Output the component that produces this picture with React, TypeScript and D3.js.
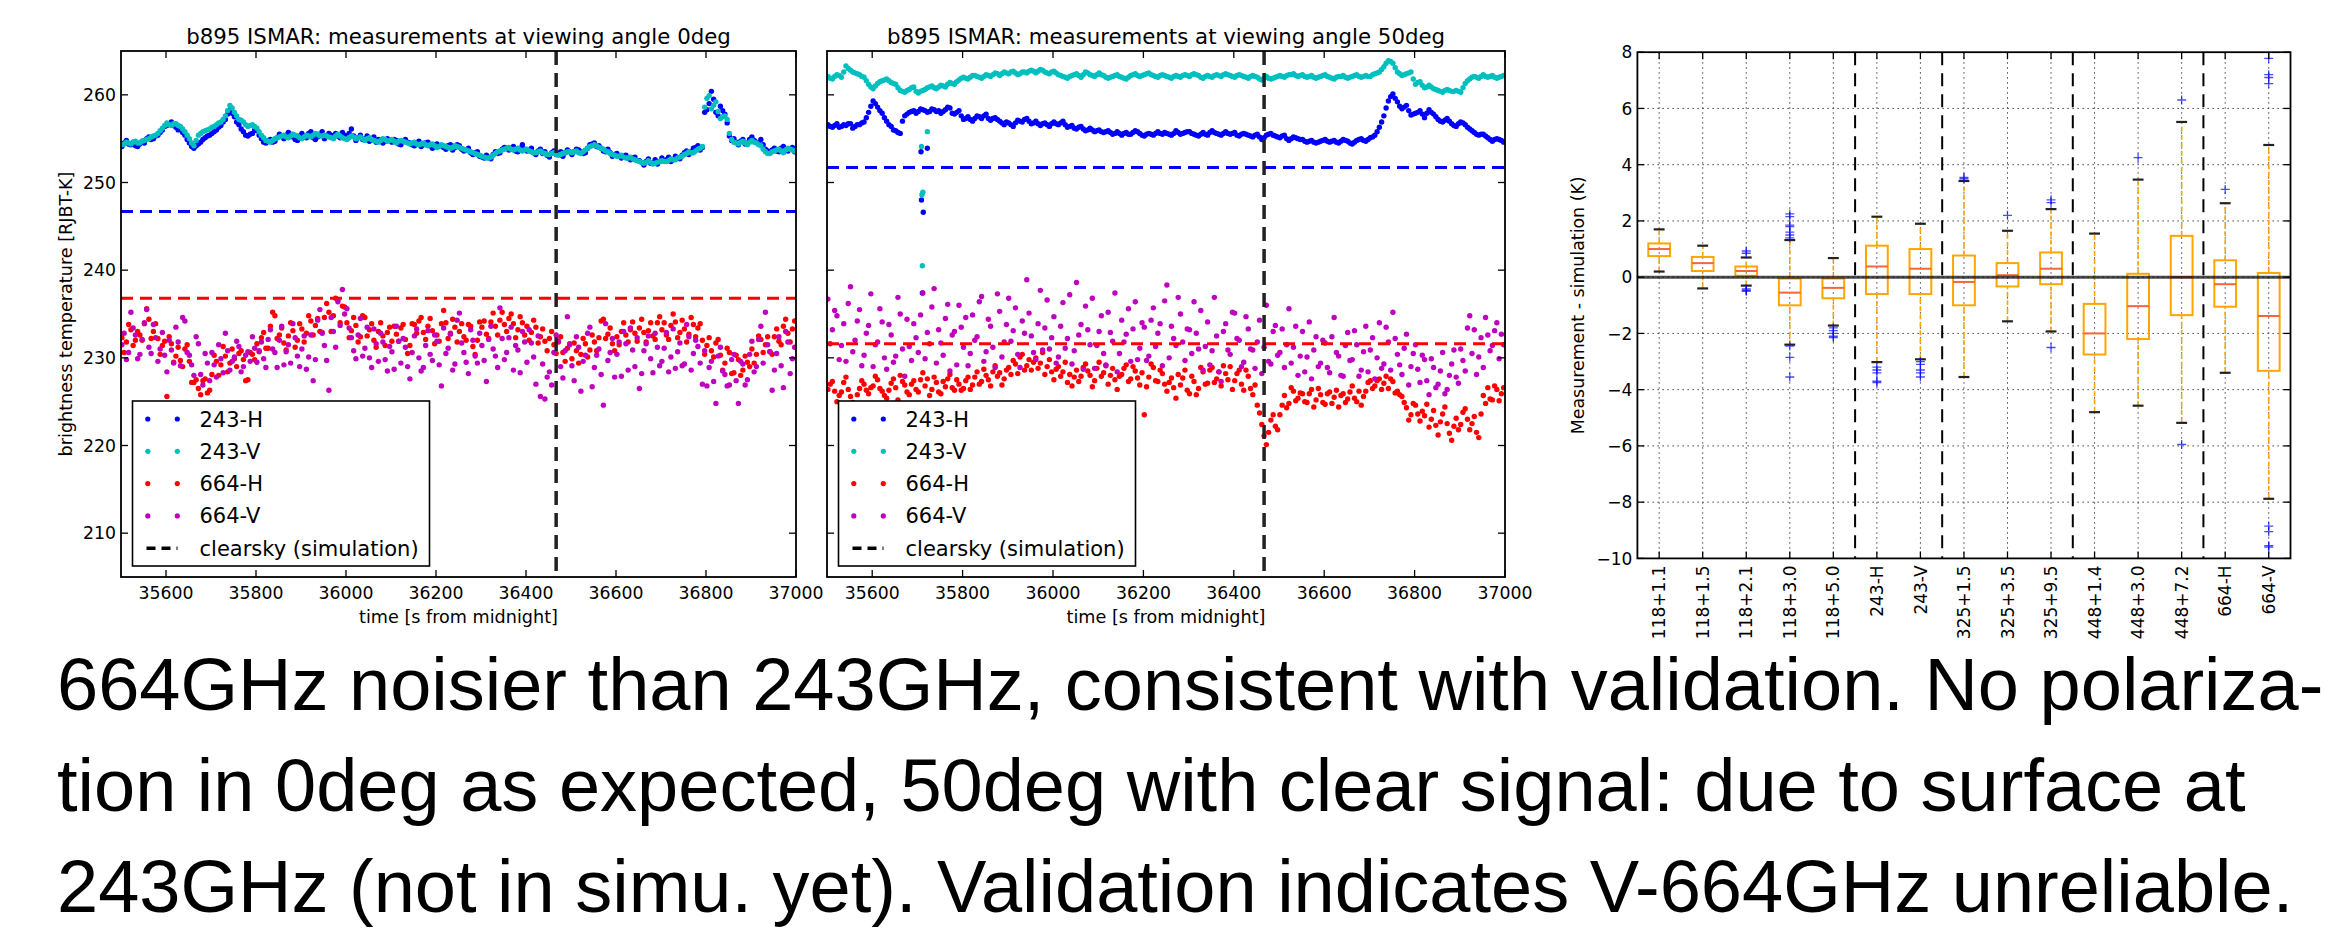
import React, { useEffect, useRef } from "react";
import * as d3 from "d3";

// sampling of the ISMAR series: one point every 10 s from 35502 s,
// plus the in-between samples (35507 s, 35517 s, ...) in the *Mid arrays
const T_START = 35502;
const T_STEP = 10;

// viewing angle 0deg
const h243Deg0 = [
  254.1, 254.8, 254.3, 254.2, 254.4, 254.5, 255.2, 255.0, 255.4, 256.0,
  256.5, 256.9, 256.3, 256.1, 255.4, 254.5, 253.9, 254.4, 254.9, 255.3,
  255.6, 256.0, 256.5, 257.2, 258.3, 257.5, 256.6, 255.8, 255.3, 255.6,
  255.9, 255.0, 254.5, 254.9, 254.7, 255.5, 255.0, 255.7, 255.2, 254.8,
  255.6, 255.1, 255.8, 254.9, 255.5, 255.0, 255.6, 255.2, 255.3, 255.7,
  255.0, 256.1, 254.8, 255.4, 255.0, 254.7, 255.2, 254.9, 254.5, 255.0,
  254.6, 254.8, 254.3, 254.9, 254.5, 254.2, 254.7, 254.3, 254.6, 253.9,
  254.4, 254.2, 253.8, 254.3, 254.0, 254.2, 253.6, 253.9, 253.2, 253.5,
  252.9, 253.1, 252.7, 253.5, 253.4, 254.0, 253.7, 254.1, 253.5, 254.3,
  253.6, 253.9, 253.2, 253.8, 253.5, 252.9, 253.6, 253.3, 253.0, 253.7,
  253.2, 253.8, 253.5, 253.4, 254.3, 254.5, 254.2, 253.6, 253.8, 253.0,
  253.3, 252.8, 253.1, 252.6, 252.9, 252.5, 252.0, 252.7, 252.3, 252.1,
  252.8, 252.6, 252.4, 253.0, 252.7, 253.4, 253.2, 253.9, 254.2, 254.0,
  258.3, 260.4, 258.0, 258.7, 257.8, 255.3, 255.0, 254.3, 254.9, 254.5,
  255.2, 254.6, 254.9, 253.8, 253.4, 253.9, 253.5, 254.1, 253.6, 254.0,
];
const h243Deg0Mid = [
  254.5, 254.4, 254.6, 254.1, 254.7, 255.0, 254.9, 255.3, 255.7, 256.4,
  256.7, 256.5, 256.0, 255.7, 254.9, 254.1, 254.2, 254.6, 255.1, 255.4,
  255.8, 256.3, 256.9, 257.8, 257.9, 256.9, 256.1, 255.4, 255.5, 256.0,
  255.4, 254.6, 254.8, 254.6, 255.1, 255.3, 255.4, 255.5, 254.9, 255.3,
  255.3, 255.6, 255.1, 255.2, 255.8, 255.3, 255.4, 255.6, 255.1, 255.4,
  255.6, 255.3, 255.1, 254.9, 255.3, 255.0, 254.6, 254.8, 254.7, 254.8,
  254.9, 254.4, 254.7, 254.6, 254.3, 254.5, 254.1, 254.5, 254.2, 254.3,
  254.1, 254.0, 254.2, 253.7, 254.3, 253.8, 253.7, 253.4, 253.4, 253.0,
  252.8, 252.9, 253.2, 253.3, 253.8, 253.9, 253.8, 253.6, 253.9, 253.8,
  253.7, 253.4, 253.6, 253.3, 253.1, 253.4, 253.2, 253.5, 253.4, 253.5,
  253.5, 253.7, 253.3, 253.9, 254.4, 254.1, 253.9, 253.5, 253.4, 253.2,
  253.0, 253.0, 252.8, 252.8, 252.5, 252.3, 252.4, 252.2, 252.6, 252.4,
  252.5, 252.9, 252.6, 252.8, 253.1, 253.6, 253.5, 254.0, 253.7, 258.0,
  259.0, 259.5, 257.6, 258.2, 256.8, 254.8, 254.6, 254.7, 254.4, 254.9,
  254.8, 254.4, 254.3, 253.6, 253.7, 253.6, 253.9, 253.7, 253.8, 253.5,
];
const v243Deg0 = [
  254.3, 254.6, 254.4, 254.7, 254.5, 254.8, 255.0, 255.3, 255.6, 256.2,
  256.8, 256.5, 256.7, 256.4, 255.8, 255.0, 254.2, 255.4, 255.8, 256.0,
  256.3, 256.6, 256.9, 257.6, 258.8, 258.0, 257.2, 256.9, 256.4, 256.6,
  256.2, 255.4, 254.8, 254.6, 255.0, 255.2, 255.4, 255.1, 255.5, 255.3,
  255.0, 255.4, 255.2, 255.6, 255.3, 255.4, 255.2, 255.0, 255.5, 255.1,
  254.9, 255.3, 255.0, 255.2, 254.8, 255.1, 254.8, 254.6, 255.0, 254.7,
  254.9, 254.5, 254.8, 254.6, 254.4, 254.6, 254.3, 254.5, 254.2, 254.4,
  254.0, 254.3, 254.1, 253.9, 254.2, 254.0, 253.8, 253.6, 253.4, 253.2,
  253.0, 252.8, 252.9, 253.3, 253.6, 253.8, 254.0, 253.7, 253.9, 253.6,
  253.8, 253.5, 253.4, 253.6, 253.3, 253.2, 253.4, 253.1, 253.3, 253.5,
  253.4, 253.6, 253.3, 253.7, 254.1, 254.3, 254.0, 253.8, 253.5, 253.2,
  253.0, 253.1, 252.8, 252.9, 252.6, 252.4, 252.2, 252.5, 252.1, 252.3,
  252.5, 252.4, 252.7, 252.6, 252.9, 253.2, 253.5, 253.4, 253.8, 254.1,
  259.6, 258.4, 259.2, 257.3, 257.6, 255.6, 254.6, 254.4, 254.7, 254.3,
  254.8, 254.5, 254.2, 253.5, 253.3, 253.6, 253.8, 253.4, 253.9, 253.7,
];
const v243Deg0Mid = [
  254.4, 254.5, 254.6, 254.5, 254.7, 254.9, 255.2, 255.4, 255.9, 256.5,
  256.6, 256.7, 256.5, 256.1, 255.4, 254.5, 254.8, 255.6, 255.9, 256.1,
  256.4, 256.8, 257.2, 258.2, 258.5, 257.6, 257.1, 256.6, 256.5, 256.4,
  255.8, 255.1, 254.7, 254.8, 255.1, 255.3, 255.2, 255.3, 255.4, 255.1,
  255.2, 255.3, 255.4, 255.5, 255.3, 255.3, 255.1, 255.3, 255.3, 255.0,
  255.1, 255.2, 255.1, 255.0, 255.0, 254.9, 254.7, 254.8, 254.9, 254.8,
  254.7, 254.7, 254.7, 254.5, 254.5, 254.4, 254.4, 254.3, 254.3, 254.2,
  254.1, 254.2, 254.0, 254.0, 254.1, 253.9, 253.7, 253.5, 253.3, 253.1,
  252.9, 252.8, 253.1, 253.5, 253.7, 253.9, 253.8, 253.8, 253.7, 253.7,
  253.6, 253.4, 253.5, 253.4, 253.2, 253.3, 253.2, 253.2, 253.4, 253.5,
  253.5, 253.4, 253.5, 253.9, 254.2, 254.2, 253.9, 253.6, 253.3, 253.1,
  253.0, 252.9, 252.8, 252.7, 252.5, 252.3, 252.3, 252.3, 252.2, 252.4,
  252.4, 252.5, 252.6, 252.8, 253.0, 253.3, 253.4, 253.6, 253.9, 258.6,
  259.9, 258.8, 258.1, 257.5, 257.2, 254.9, 254.5, 254.6, 254.5, 254.6,
  254.6, 254.3, 253.8, 253.3, 253.5, 253.7, 253.6, 253.7, 253.8, 253.6,
];
const h664Deg0 = [
  232.3, 231.8, 233.2, 232.0, 232.6, 233.9, 234.4, 233.0, 232.2, 231.4,
  225.6, 231.6, 230.2, 229.7, 231.0, 229.6, 227.2, 226.5, 227.4, 226.0,
  228.1, 229.6, 229.2, 230.2, 229.4, 229.9, 230.5, 229.8, 227.5, 230.4,
  231.6, 232.3, 231.1, 233.6, 234.8, 232.6, 231.7, 232.5, 233.1, 232.0,
  233.3, 232.8, 234.2, 233.7, 233.0, 234.6, 235.2, 234.8, 236.6, 235.9,
  234.0, 233.1, 233.7, 232.4, 234.6, 233.2, 232.0, 233.0, 232.5, 232.9,
  231.9, 232.7, 233.4, 232.1, 231.4, 233.8, 234.2, 232.9, 233.6, 233.1,
  232.6, 233.9, 234.0, 232.8, 233.5, 233.0, 232.4, 233.8, 231.3, 232.0,
  233.5, 232.7, 234.1, 233.6, 234.3, 233.8, 234.5, 233.9, 233.2, 234.0,
  233.6, 232.9, 233.5, 232.4, 231.9, 232.2, 231.5, 231.8, 230.6, 231.1,
  229.9, 230.8, 230.4, 231.6, 230.9, 231.8, 232.3, 234.4, 232.7, 231.6,
  232.4, 233.0, 232.6, 233.2, 232.8, 233.4, 232.9, 233.1, 232.5, 234.0,
  233.2, 232.6, 233.7, 234.1, 232.9, 233.3, 232.7, 233.8, 233.4, 232.0,
  231.4, 230.8, 231.7, 230.3, 229.4, 230.6, 228.3, 229.8, 228.6, 229.5,
  231.0, 230.4, 232.1, 231.5, 230.7, 232.4, 231.9, 233.6, 232.8, 233.3,
];
const h664Deg0Mid = [
  230.6, 233.8, 231.4, 233.0, 232.0, 235.6, 232.2, 233.9, 230.4, 231.9,
  232.4, 229.5, 231.2, 229.0, 231.5, 227.2, 227.5, 225.8, 227.6, 226.3,
  230.3, 228.0, 231.3, 228.4, 231.0, 229.0, 230.8, 227.4, 230.6, 229.8,
  230.7, 232.9, 231.1, 235.2, 232.2, 233.4, 230.9, 234.0, 231.2, 233.9,
  231.8, 234.8, 232.6, 234.5, 232.9, 236.2, 233.0, 236.8, 234.0, 235.8,
  232.3, 234.6, 231.8, 234.8, 232.5, 233.9, 231.2, 234.0, 231.4, 233.5,
  233.6, 231.9, 233.8, 230.5, 233.9, 232.8, 234.6, 232.1, 234.5, 231.6,
  231.9, 235.4, 232.2, 234.4, 231.8, 233.9, 232.0, 233.6, 230.4, 234.1,
  234.2, 232.2, 235.1, 232.6, 235.2, 233.0, 235.0, 232.3, 234.7, 232.6,
  232.0, 234.3, 231.7, 233.3, 230.8, 233.0, 230.5, 232.4, 229.6, 231.6,
  231.7, 229.4, 232.2, 230.1, 232.6, 230.8, 234.2, 232.2, 233.4, 230.8,
  231.5, 234.0, 231.8, 234.1, 231.9, 234.4, 231.8, 234.0, 232.1, 234.7,
  234.0, 232.1, 235.0, 232.3, 234.3, 231.8, 234.6, 232.4, 233.9, 230.4,
  232.3, 230.1, 232.1, 228.6, 231.1, 228.2, 230.3, 228.0, 230.2, 229.0,
  229.4, 232.5, 230.6, 232.4, 230.4, 233.3, 231.5, 234.4, 231.8, 234.2,
];
const v664Deg0 = [
  231.5, 229.8, 235.2, 232.6, 230.4, 234.0, 231.2, 233.8, 229.6, 232.9,
  228.4, 230.9, 233.5, 229.1, 234.2, 230.3, 228.0, 231.6, 226.9, 229.4,
  230.6, 227.8, 229.9, 232.8, 228.6, 230.1, 231.3, 229.0, 230.7, 232.4,
  229.5, 231.8, 228.9, 233.2, 230.6, 232.0, 229.2, 231.5, 233.9, 230.2,
  231.0, 228.7, 232.6, 229.8, 235.5, 231.4, 226.3, 233.0, 236.4, 237.8,
  235.6, 232.3, 229.9, 234.5, 231.1, 230.0, 233.3, 229.6, 231.8, 228.5,
  230.7, 233.6, 229.4, 231.2, 227.6, 232.5, 230.0, 228.9, 233.1, 229.7,
  231.9, 226.8, 230.5, 232.7, 229.3, 235.1, 230.6, 228.2, 232.0, 229.4,
  231.4, 227.3, 233.6, 230.2, 235.7, 229.8, 232.3, 228.6, 230.9, 233.0,
  229.5, 231.7, 227.0, 225.6, 225.3, 228.4, 230.6, 231.9, 227.7, 234.7,
  229.1, 232.4, 226.2, 230.3, 233.5, 228.9, 231.0, 224.6, 229.7, 232.2,
  230.4, 227.9, 231.6, 233.4, 229.0, 226.5, 230.8, 232.5, 228.3, 231.2,
  229.6, 232.9, 230.1, 228.8, 231.7, 229.3, 232.4, 230.5, 231.3, 227.0,
  226.8, 229.6, 224.8, 231.2, 228.1, 226.9, 230.4, 224.8, 229.3, 227.5,
  231.9, 229.0, 233.6, 235.2, 230.7, 228.6, 232.4, 226.6, 231.8, 229.9,
];
const v664Deg0Mid = [
  232.8, 230.6, 233.4, 229.9, 232.1, 235.5, 230.5, 232.3, 231.0, 230.3,
  232.0, 229.4, 231.8, 234.6, 230.6, 229.2, 232.4, 228.1, 230.5, 227.4,
  229.2, 231.5, 228.3, 230.8, 229.6, 231.9, 228.4, 230.3, 229.6, 231.1,
  230.8, 229.9, 232.1, 231.0, 228.9, 233.6, 230.7, 229.4, 232.3, 229.0,
  232.5, 230.1, 227.4, 234.3, 232.8, 229.7, 234.6, 231.2, 233.7, 235.0,
  233.4, 230.8, 232.6, 230.2, 233.5, 228.9, 231.6, 232.8, 229.8, 231.3,
  228.7, 231.9, 232.2, 229.0, 230.6, 233.3, 228.5, 231.4, 230.4, 232.6,
  229.2, 233.4, 231.1, 228.6, 234.3, 231.7, 229.5, 233.2, 230.2, 232.8,
  229.7, 232.1, 231.0, 228.9, 232.2, 230.6, 233.5, 231.4, 228.3, 231.8,
  233.2, 230.1, 232.5, 229.3, 227.8, 226.9, 232.6, 229.0, 230.8, 231.5,
  227.4, 231.2, 229.6, 232.8, 226.7, 230.3, 228.1, 233.9, 230.6, 227.8,
  231.8, 233.0, 228.6, 230.9, 232.3, 228.2, 231.6, 229.9, 232.8, 229.1,
  231.1, 228.4, 233.3, 230.7, 229.1, 233.8, 228.6, 232.0, 229.4, 230.8,
  228.9, 227.3, 230.2, 228.5, 226.8, 229.8, 227.4, 229.6, 226.9, 230.4,
  228.4, 232.1, 229.4, 231.5, 226.3, 230.5, 229.1, 233.0, 228.2, 231.2,
];

// viewing angle 50deg
const h243Deg50 = [
  256.6, 256.3, 256.7, 256.4, 256.5, 256.7, 256.4, 256.6, 256.9, 258.0,
  259.3, 258.6, 257.9, 257.0, 256.4, 255.9, 255.6, 257.6, 258.0, 258.2,
  258.1, 258.3, 258.0, 258.4, 258.1, 257.9, 258.3, 258.5, 257.8, 258.2,
  257.2, 257.5, 257.0, 257.6, 257.3, 257.8, 257.1, 257.4, 257.0, 256.6,
  256.8, 256.4, 257.1, 256.9, 257.3, 256.7, 257.0, 256.5, 256.8, 256.4,
  256.9, 256.6, 257.0, 256.3, 256.5, 256.1, 256.4, 255.9, 256.2, 255.8,
  256.0, 255.7, 255.9, 255.5, 255.8, 255.4, 255.7, 255.5, 255.9, 255.6,
  255.3, 255.6, 255.4, 255.8, 255.5, 255.6, 255.4, 255.9, 255.5, 255.7,
  255.8, 255.5, 255.3, 255.7, 255.4, 255.9, 255.6, 255.4, 255.8, 255.5,
  255.7, 255.3, 255.6, 255.4, 255.2, 255.5, 254.9, 255.4, 255.6, 255.3,
  255.1, 255.4, 254.8, 255.2, 255.0, 254.9, 254.6, 254.8, 254.5, 254.7,
  254.9, 254.6, 254.8, 254.5, 254.9, 254.7, 254.4, 254.8, 255.0, 254.7,
  255.1, 255.4, 256.3, 257.6, 259.3, 260.1, 259.2, 258.4, 258.8, 257.7,
  257.9, 258.2, 257.4, 258.3, 257.8, 257.2, 256.9, 257.3, 256.7, 256.4,
  256.9, 256.6, 256.1, 255.7, 255.4, 255.5, 255.1, 254.7, 255.0, 254.8,
];
const h243Deg50Mid = [
  256.4, 256.5, 256.3, 256.6, 256.7, 256.2, 256.6, 256.8, 257.4, 258.7,
  259.0, 258.2, 257.4, 256.6, 256.0, 255.7, 257.0, 257.8, 258.1, 257.9,
  258.4, 258.2, 258.1, 258.3, 258.2, 258.1, 258.6, 257.9, 258.0, 257.6,
  257.3, 257.2, 257.3, 257.5, 257.6, 257.3, 257.3, 257.2, 256.8, 256.9,
  256.6, 256.8, 257.0, 257.2, 257.0, 256.8, 256.7, 256.7, 256.6, 256.7,
  256.7, 256.8, 256.6, 256.4, 256.2, 256.3, 256.1, 256.0, 256.0, 255.9,
  255.8, 255.8, 255.7, 255.6, 255.6, 255.6, 255.5, 255.7, 255.8, 255.4,
  255.5, 255.5, 255.6, 255.6, 255.7, 255.5, 255.6, 255.7, 255.6, 255.8,
  255.6, 255.4, 255.5, 255.5, 255.7, 255.7, 255.5, 255.6, 255.6, 255.6,
  255.4, 255.5, 255.5, 255.3, 255.4, 255.2, 255.1, 255.5, 255.4, 255.2,
  255.3, 255.0, 255.0, 255.1, 254.9, 254.7, 254.7, 254.6, 254.6, 254.8,
  254.7, 254.7, 254.6, 254.7, 254.8, 254.5, 254.6, 254.9, 254.8, 254.9,
  255.2, 255.8, 256.9, 258.5, 259.8, 259.6, 258.7, 258.6, 258.2, 257.8,
  258.0, 257.8, 257.9, 258.0, 257.5, 257.0, 257.1, 257.0, 256.5, 256.7,
  256.8, 256.3, 255.9, 255.5, 255.5, 255.3, 254.9, 254.9, 254.9, 254.6,
];
const v243Deg50 = [
  262.1, 261.8, 262.3, 262.0, 263.3, 262.8, 262.5, 262.3, 262.0, 261.2,
  260.7, 261.3, 261.6, 261.8, 261.4, 261.2, 260.5, 260.3, 260.6, 260.9,
  260.2, 260.5, 260.8, 261.0, 260.7, 261.1, 260.9, 261.4, 261.2, 261.7,
  262.0, 261.8, 262.2, 262.1, 261.9, 262.3, 262.1, 262.5, 262.2, 262.6,
  262.4, 262.7, 262.3, 262.6, 262.5, 262.8, 262.5, 262.9, 262.6, 262.4,
  262.7, 262.3, 262.1, 261.9, 262.2, 262.4, 262.0, 262.6, 262.3, 262.1,
  262.5, 262.2, 261.9, 262.1, 262.3, 262.0, 261.8, 262.2, 262.4, 262.1,
  262.3, 262.5, 262.2, 262.0, 262.3, 262.1, 261.9, 262.2, 262.0, 262.3,
  262.1, 262.4, 262.2, 261.9, 262.2, 262.0, 262.3, 262.1, 262.4, 262.2,
  262.0, 262.3, 262.1, 261.9, 262.2, 262.0, 261.7, 262.1, 261.8, 262.0,
  262.2, 262.0, 262.3, 262.4, 262.1, 262.3, 262.0, 262.2, 261.9, 262.1,
  262.3, 262.0, 261.8, 262.1, 262.2, 261.9, 262.1, 262.3, 262.0, 262.2,
  262.1, 262.4, 262.6, 263.2, 263.9, 263.6, 262.6, 262.2, 262.4, 262.6,
  261.2, 261.5, 260.8, 261.1, 260.7, 260.5, 260.3, 260.6, 260.4, 260.5,
  260.3, 261.3, 261.8, 262.1, 261.9, 262.3, 262.0, 262.2, 261.9, 262.1,
];
const v243Deg50Mid = [
  261.9, 262.1, 262.2, 262.6, 263.0, 262.6, 262.4, 262.1, 261.6, 260.9,
  261.0, 261.5, 261.7, 261.6, 261.3, 260.8, 260.4, 260.5, 260.8, 260.4,
  260.4, 260.6, 260.9, 260.8, 260.9, 261.0, 261.2, 261.3, 261.5, 261.9,
  261.9, 262.0, 262.2, 262.0, 262.1, 262.2, 262.3, 262.4, 262.4, 262.5,
  262.6, 262.5, 262.4, 262.6, 262.7, 262.7, 262.7, 262.8, 262.5, 262.6,
  262.5, 262.2, 262.0, 262.1, 262.3, 262.2, 262.3, 262.5, 262.2, 262.3,
  262.3, 262.0, 262.0, 262.2, 262.1, 261.9, 262.0, 262.3, 262.2, 262.2,
  262.4, 262.3, 262.1, 262.2, 262.2, 262.0, 262.1, 262.1, 262.2, 262.2,
  262.3, 262.3, 262.0, 262.1, 262.1, 262.2, 262.2, 262.3, 262.3, 262.1,
  262.2, 262.2, 262.0, 262.1, 262.1, 261.8, 261.9, 261.9, 261.9, 262.1,
  262.1, 262.2, 262.3, 262.2, 262.2, 262.1, 262.1, 262.0, 262.0, 262.2,
  262.1, 261.9, 262.0, 262.1, 262.0, 262.0, 262.2, 262.1, 262.1, 262.1,
  262.3, 262.5, 262.9, 263.6, 263.8, 263.1, 262.4, 262.3, 262.5, 261.8,
  261.4, 261.1, 260.9, 260.9, 260.6, 260.4, 260.5, 260.5, 260.4, 260.4,
  260.8, 261.6, 262.0, 262.0, 262.1, 262.1, 262.1, 262.0, 262.0, 262.2,
];
const h664Deg50 = [
  226.4, 227.3, 225.0, 226.1, 227.8, 225.6, 224.6, 226.5, 227.0, 225.9,
  226.8, 227.5, 226.2, 225.4, 227.1, 226.6, 228.0, 226.9, 225.8, 227.4,
  226.1, 228.3, 227.6, 226.4, 227.2, 225.9, 226.7, 228.1, 226.3, 227.0,
  226.5, 227.8, 226.9, 228.4, 227.3, 228.0, 226.8, 229.1, 228.3, 227.6,
  228.9, 229.7, 228.2, 230.4, 229.1, 228.6, 230.0, 229.4, 228.1, 229.8,
  227.5, 229.0, 228.4, 227.2, 226.8, 228.6, 227.9, 229.3, 228.0, 227.4,
  229.5, 228.3, 227.0, 228.8, 226.4, 228.1, 229.2, 227.6, 228.5, 226.9,
  223.5, 227.8, 228.9, 227.3, 228.2, 226.2, 227.7, 225.4, 226.9, 228.6,
  225.9, 227.3, 226.5, 228.4, 227.1, 228.9, 227.6, 226.8, 228.2, 229.0,
  227.4, 228.6, 226.3, 227.9, 225.8, 224.6, 222.4, 220.1, 222.9, 222.2,
  223.5, 225.7, 224.8, 226.2, 225.4, 225.9, 224.9, 226.4, 225.2, 225.8,
  224.7, 226.1, 225.5, 224.4, 225.9, 225.3, 226.8, 225.0, 224.6, 226.2,
  227.4, 226.8, 227.6, 227.1, 226.5, 227.3, 226.2, 225.6, 224.3, 223.5,
  224.6, 222.8, 223.4, 222.1, 224.0, 221.2, 223.6, 222.5, 220.6, 223.1,
  222.4, 224.2, 221.8, 223.3, 220.9, 225.7, 226.6, 225.2, 226.4, 225.9,
];
const h664Deg50Mid = [
  227.0, 226.2, 225.7, 227.2, 226.4, 224.9, 225.8, 227.4, 226.3, 226.6,
  227.9, 226.5, 225.7, 226.3, 227.6, 225.2, 227.3, 226.1, 227.0, 226.4,
  227.5, 226.8, 225.7, 227.8, 226.1, 227.3, 227.6, 226.6, 227.5, 226.3,
  227.4, 226.4, 227.8, 227.0, 228.7, 227.5, 228.4, 227.9, 226.9, 228.6,
  228.1, 229.3, 230.1, 228.6, 229.8, 229.5, 228.8, 230.6, 229.0, 228.4,
  228.7, 227.9, 229.5, 228.1, 227.8, 227.3, 228.9, 228.5, 226.7, 228.8,
  227.9, 229.1, 228.0, 227.5, 227.9, 228.8, 227.3, 229.0, 227.7, 228.3,
  226.7, 229.3, 227.4, 228.6, 227.0, 227.2, 226.6, 228.1, 227.7, 226.3,
  227.9, 225.8, 228.9, 227.0, 228.6, 227.2, 228.4, 229.1, 227.5, 226.4,
  228.2, 227.0, 228.6, 226.5, 226.9, 223.7, 221.1, 221.5, 223.5, 221.8,
  224.6, 224.3, 226.6, 225.1, 226.0, 225.0, 225.9, 224.4, 226.5, 224.9,
  225.9, 224.8, 226.3, 225.7, 224.9, 226.1, 225.4, 226.2, 225.6, 227.2,
  226.5, 227.4, 226.4, 227.9, 227.6, 226.0, 225.8, 224.9, 222.9, 224.8,
  223.6, 223.9, 224.7, 223.0, 222.3, 222.7, 224.4, 221.4, 222.2, 221.8,
  223.8, 223.0, 222.5, 221.5, 223.6, 224.8, 225.3, 226.8, 225.1, 226.6,
];
const v664Deg50 = [
  236.7, 233.2, 234.8, 231.4, 229.6, 238.1, 232.0, 235.5, 230.3, 233.7,
  229.0, 231.8, 234.1, 228.7, 232.6, 230.2, 235.0, 227.9, 231.3, 233.9,
  230.6, 237.4, 232.9, 235.8, 229.4, 231.7, 234.5, 228.5, 233.0, 236.0,
  231.2, 229.1, 234.9, 232.4, 237.0, 230.7, 233.6, 228.9, 235.3, 231.8,
  236.8, 233.1, 230.4, 234.2, 238.9, 232.5, 229.8, 237.7, 233.4, 231.0,
  234.7, 230.1, 236.3, 232.2, 229.3, 238.6, 233.8, 235.9, 231.5, 228.8,
  233.0, 230.5, 235.2, 231.9, 228.4, 234.3, 232.7, 229.6, 236.4, 231.1,
  233.5, 230.2, 235.7, 232.8, 229.1, 238.3, 233.6, 231.4, 235.0, 229.7,
  233.2, 236.4, 231.0, 228.6, 234.1, 230.8, 232.5, 227.3, 233.9, 230.4,
  235.1, 232.0, 229.5, 233.3, 230.9, 231.8, 228.2, 236.0, 229.3, 233.7,
  230.6, 228.9, 235.6, 231.2, 228.0, 233.0, 230.1, 227.6, 232.4, 229.4,
  231.7, 228.3, 234.6, 230.2, 227.9, 232.9, 229.8, 231.5, 228.6, 233.6,
  230.9, 227.6, 234.0, 229.3, 231.8, 235.2, 230.4, 228.1, 232.7, 229.0,
  231.5, 227.2, 229.8, 225.8, 228.9, 227.0, 230.6, 226.4, 229.3, 227.8,
  231.0, 228.5, 234.8, 233.2, 230.1, 228.9, 232.6, 231.4, 234.0, 232.7,
];
const v664Deg50Mid = [
  231.6, 235.4, 229.8, 233.9, 236.2, 230.7, 234.2, 229.1, 232.8, 237.3,
  231.5, 235.6, 230.0, 233.8, 229.5, 236.9, 231.0, 234.4, 229.7, 232.3,
  234.9, 229.9, 231.6, 237.9, 233.2, 230.3, 236.1, 232.6, 229.2, 233.5,
  234.6, 230.5, 232.0, 236.4, 229.6, 234.4, 231.2, 237.3, 230.1, 233.8,
  231.9, 235.7, 228.9, 232.8, 235.1, 230.6, 233.9, 230.9, 236.6, 232.3,
  229.4, 233.6, 231.1, 237.2, 230.8, 232.6, 228.7, 233.2, 236.8, 231.4,
  234.8, 229.2, 232.9, 237.4, 230.5, 231.8, 235.6, 233.3, 229.8, 234.0,
  229.7, 234.3, 231.3, 233.9, 236.5, 230.0, 232.2, 236.9, 231.8, 233.3,
  230.5, 232.8, 235.4, 231.3, 229.2, 236.9, 228.4, 233.0, 230.9, 235.2,
  232.2, 229.0, 234.7, 231.0, 228.8, 234.3, 231.2, 229.6, 233.0, 230.3,
  233.3, 231.5, 229.4, 233.6, 230.2, 228.4, 234.1, 230.9, 229.0, 232.0,
  228.9, 232.4, 230.6, 228.0, 231.4, 229.7, 233.1, 227.9, 230.7, 228.4,
  232.3, 230.0, 228.8, 233.5, 228.6, 232.2, 229.2, 231.1, 226.9, 230.5,
  228.7, 230.3, 227.4, 229.9, 226.6, 228.5, 225.9, 228.0, 230.9, 227.1,
  229.7, 233.4, 230.5, 228.1, 232.3, 234.6, 230.8, 233.1, 229.9, 231.5,
];
// transition samples around 35710 s at 50deg
const extraH50Times = [35708, 35709, 35711, 35713, 35722];
const extraH50Values = [253.5, 248.0, 237.4, 246.6, 253.9];
const extraV50Times = [35709, 35710, 35711, 35712, 35722];
const extraV50Values = [254.1, 248.6, 240.5, 248.9, 255.8];

// clearsky simulation [243 GHz, 664 GHz]
const clearsky0 = [246.7, 236.8];
const clearsky50 = [251.7, 231.6];
const refTime = 36467;

const seriesNames = ["243-H", "243-V", "664-H", "664-V"];
const seriesColors = ["#0000ff", "#00bfbf", "#ff0000", "#bf00bf"];
const xTicks = [35600, 35800, 36000, 36200, 36400, 36600, 36800, 37000];
const yTicks = [210, 220, 230, 240, 250, 260];

// validation box plot
const channels = ["118+1.1", "118+1.5", "118+2.1", "118+3.0", "118+5.0", "243-H", "243-V",
  "325+1.5", "325+3.5", "325+9.5", "448+1.4", "448+3.0", "448+7.2", "664-H", "664-V"];
const q1 = [0.75, 0.22, 0.05, -1.0, -0.75, -0.6, -0.6, -1.0, -0.33, -0.25, -2.75, -2.2, -1.35, -1.05, -3.33];
const medians = [1.0, 0.5, 0.22, -0.55, -0.38, 0.38, 0.3, -0.17, 0.07, 0.3, -2.0, -1.03, 0.0, -0.25, -1.38];
const q3 = [1.2, 0.72, 0.38, -0.05, -0.05, 1.12, 1.0, 0.77, 0.5, 0.88, -0.95, 0.12, 1.47, 0.6, 0.15];
const whiskLo = [0.2, -0.4, -0.3, -2.4, -1.72, -3.02, -2.92, -3.55, -1.57, -1.93, -4.8, -4.57, -5.18, -3.4, -7.88];
const whiskHi = [1.7, 1.12, 0.7, 1.32, 0.68, 2.15, 1.9, 3.42, 1.65, 2.42, 1.55, 3.47, 5.52, 2.63, 4.7];
const fliers = [
  [], [], [0.93, 0.85, -0.42, -0.47, -0.5],
  [2.25, 2.15, 1.85, 1.8, 1.6, 1.5, 1.4, -2.45, -2.85, -3.55],
  [-1.8, -1.9, -2.0, -2.1, -2.15],
  [-3.2, -3.3, -3.4, -3.7, -3.75],
  [-3.0, -3.1, -3.3, -3.4, -3.55],
  [3.55, 3.5], [2.2], [2.75, 2.65, -2.5], [], [4.25], [6.3, -5.95], [3.12],
  [7.78, 7.2, 7.1, 6.88, -8.85, -9.05, -9.55, -9.6],
];
const groupBreaks = [5.5, 7.5, 10.5, 13.5];
const boxYTicks = [-10, -8, -6, -4, -2, 0, 2, 4, 6, 8];

const captionLines = [
  "664GHz noisier than 243GHz, consistent with validation. No polariza-",
  "tion in 0deg as expected, 50deg with clear signal: due to surface at",
  "243GHz (not in simu. yet). Validation indicates V-664GHz unreliable.",
];

const FONT = "DejaVu Sans, sans-serif";

function drawScatter(svg, cfg) {
  const { x0, x1, y0, y1, title, data, dataMid, extras, clearsky, showYLabels, id } = cfg;
  const x = d3.scaleLinear().domain([35500, 37000]).range([x0, x1]);
  const y = d3.scaleLinear().domain([205, 265]).range([y1, y0]);
  const times = d3.range(data[0].length).map((i) => T_START + i * T_STEP);
  const timesMid = times.map((t) => t + T_STEP / 2);

  svg.append("clipPath").attr("id", id).append("rect")
    .attr("x", x0).attr("y", y0).attr("width", x1 - x0).attr("height", y1 - y0);
  const plot = svg.append("g").attr("clip-path", `url(#${id})`);

  const dots = (vals, ts, color) => {
    plot.append("g").selectAll("circle").data(vals).enter().append("circle")
      .attr("cx", (d, i) => x(ts[i]))
      .attr("cy", (d) => y(d))
      .attr("r", 2.7)
      .attr("fill", color);
  };
  data.forEach((vals, s) => {
    dots(vals, times, seriesColors[s]);
    dots(dataMid[s], timesMid, seriesColors[s]);
    const ex = extras && extras[s];
    if (ex) dots(ex.values, ex.times, seriesColors[s]);
  });

  // clearsky levels
  plot.selectAll("line.sim").data(clearsky).enter().append("line")
    .attr("x1", x0).attr("x2", x1)
    .attr("y1", (d) => y(d)).attr("y2", (d) => y(d))
    .attr("stroke", (d, i) => (i === 0 ? "#0000ff" : "#ff0000"))
    .attr("stroke-width", 3)
    .attr("stroke-dasharray", "12 7");

  plot.append("line")
    .attr("x1", x(refTime)).attr("x2", x(refTime))
    .attr("y1", y0).attr("y2", y1)
    .attr("stroke", "#222").attr("stroke-width", 3.5)
    .attr("stroke-dasharray", "14 8");

  // legend
  const lx = x0 + 11.5, ly = 401;
  const lg = svg.append("g").attr("transform", `translate(${lx},${ly})`);
  lg.append("rect").attr("width", 297).attr("height", 165)
    .attr("fill", "#fff").attr("stroke", "#000").attr("stroke-width", 1.6);
  seriesNames.forEach((name, i) => {
    const cy = 18 + i * 32.3;
    [15.3, 44.8].forEach((cx) => {
      lg.append("circle").attr("cx", cx).attr("cy", cy).attr("r", 2.6).attr("fill", seriesColors[i]);
    });
    lg.append("text").attr("x", 67).attr("y", cy).attr("dy", "0.36em")
      .attr("font-family", FONT).attr("font-size", 21).text(name);
  });
  const cyL = 18 + 4 * 32.3;
  lg.append("line").attr("x1", 14).attr("x2", 45).attr("y1", cyL).attr("y2", cyL)
    .attr("stroke", "#000").attr("stroke-width", 3.5).attr("stroke-dasharray", "9 6");
  lg.append("text").attr("x", 67).attr("y", cyL).attr("dy", "0.36em")
    .attr("font-family", FONT).attr("font-size", 21).text("clearsky (simulation)");

  // frame and ticks
  svg.append("rect").attr("x", x0).attr("y", y0).attr("width", x1 - x0).attr("height", y1 - y0)
    .attr("fill", "none").attr("stroke", "#000").attr("stroke-width", 1.8);
  const tk = svg.append("g").attr("stroke", "#000").attr("stroke-width", 1.3);
  xTicks.forEach((t) => {
    tk.append("line").attr("x1", x(t)).attr("x2", x(t)).attr("y1", y1).attr("y2", y1 - 7);
    tk.append("line").attr("x1", x(t)).attr("x2", x(t)).attr("y1", y0).attr("y2", y0 + 7);
  });
  yTicks.forEach((v) => {
    tk.append("line").attr("x1", x0).attr("x2", x0 + 7).attr("y1", y(v)).attr("y2", y(v));
    tk.append("line").attr("x1", x1).attr("x2", x1 - 7).attr("y1", y(v)).attr("y2", y(v));
  });

  svg.append("g").selectAll("text").data(xTicks).enter().append("text")
    .attr("x", (d) => x(d)).attr("y", y1 + 22)
    .attr("text-anchor", "middle").attr("font-family", FONT).attr("font-size", 17.3)
    .text((d) => d);
  if (showYLabels) {
    svg.append("g").selectAll("text").data(yTicks).enter().append("text")
      .attr("x", x0 - 5).attr("y", (d) => y(d)).attr("dy", "0.36em")
      .attr("text-anchor", "end").attr("font-family", FONT).attr("font-size", 17.3)
      .text((d) => d);
    svg.append("text")
      .attr("transform", `translate(66,${(y0 + y1) / 2}) rotate(-90)`)
      .attr("text-anchor", "middle").attr("dy", "0.36em")
      .attr("font-family", FONT).attr("font-size", 17.6)
      .text("brightness temperature [RJBT-K]");
  }
  svg.append("text").attr("x", (x0 + x1) / 2).attr("y", y0 - 7)
    .attr("text-anchor", "middle").attr("font-family", FONT).attr("font-size", 21.3)
    .text(title);
  svg.append("text").attr("x", (x0 + x1) / 2).attr("y", y1 + 46)
    .attr("text-anchor", "middle").attr("font-family", FONT).attr("font-size", 17.6)
    .text("time [s from midnight]");
}

function drawBoxes(svg) {
  const x0 = 1637.4, x1 = 2290.5, y0 = 52.2, y1 = 558.4;
  const x = d3.scaleLinear().domain([0.5, channels.length + 0.5]).range([x0, x1]);
  const y = d3.scaleLinear().domain([-10, 8]).range([y1, y0]);
  const half = (x(2) - x(1)) * 0.25;
  const idx = channels.map((c, i) => i + 1);

  const grid = svg.append("g").attr("stroke", "#444").attr("stroke-width", 1)
    .attr("stroke-dasharray", "1.5 3.5");
  boxYTicks.slice(1, -1).forEach((v) => {
    grid.append("line").attr("x1", x0).attr("x2", x1).attr("y1", y(v)).attr("y2", y(v));
  });
  idx.forEach((k) => {
    grid.append("line").attr("x1", x(k)).attr("x2", x(k)).attr("y1", y0).attr("y2", y1);
  });

  svg.append("g").selectAll("line").data(groupBreaks).enter().append("line")
    .attr("x1", (d) => x(d)).attr("x2", (d) => x(d)).attr("y1", y0).attr("y2", y1)
    .attr("stroke", "#000").attr("stroke-width", 2).attr("stroke-dasharray", "13 8");

  const g = svg.append("g");
  idx.forEach((k, i) => {
    const cx = x(k);
    [[whiskLo[i], q1[i]], [q3[i], whiskHi[i]]].forEach(([a, b]) => {
      g.append("line").attr("x1", cx).attr("x2", cx).attr("y1", y(a)).attr("y2", y(b))
        .attr("stroke", "#ffa500").attr("stroke-width", 1.6).attr("stroke-dasharray", "5 3");
    });
    [whiskLo[i], whiskHi[i]].forEach((v) => {
      g.append("line").attr("x1", cx - half / 2).attr("x2", cx + half / 2).attr("y1", y(v)).attr("y2", y(v))
        .attr("stroke", "#222").attr("stroke-width", 2.2);
    });
    g.append("rect").attr("x", cx - half).attr("width", 2 * half)
      .attr("y", y(q3[i])).attr("height", y(q1[i]) - y(q3[i]))
      .attr("fill", "none").attr("stroke", "#ffa500").attr("stroke-width", 2);
    g.append("line").attr("x1", cx - half).attr("x2", cx + half)
      .attr("y1", y(medians[i])).attr("y2", y(medians[i]))
      .attr("stroke", "#f4673b").attr("stroke-width", 2);
    fliers[i].forEach((v) => {
      const py = y(v);
      g.append("path").attr("d", `M${cx - 4.5},${py}h9M${cx},${py - 4.5}v9`)
        .attr("stroke", "#0000ff").attr("stroke-opacity", 0.7).attr("stroke-width", 1.3);
    });
  });

  svg.append("line").attr("x1", x0).attr("x2", x1).attr("y1", y(0)).attr("y2", y(0))
    .attr("stroke", "#000").attr("stroke-opacity", 0.7).attr("stroke-width", 3);

  svg.append("rect").attr("x", x0).attr("y", y0).attr("width", x1 - x0).attr("height", y1 - y0)
    .attr("fill", "none").attr("stroke", "#000").attr("stroke-width", 1.8);
  const tk = svg.append("g").attr("stroke", "#000").attr("stroke-width", 1.3);
  boxYTicks.forEach((v) => {
    tk.append("line").attr("x1", x0).attr("x2", x0 + 7).attr("y1", y(v)).attr("y2", y(v));
    tk.append("line").attr("x1", x1).attr("x2", x1 - 7).attr("y1", y(v)).attr("y2", y(v));
  });
  idx.forEach((k) => {
    tk.append("line").attr("x1", x(k)).attr("x2", x(k)).attr("y1", y1).attr("y2", y1 - 7);
    tk.append("line").attr("x1", x(k)).attr("x2", x(k)).attr("y1", y0).attr("y2", y0 + 7);
  });

  svg.append("g").selectAll("text").data(boxYTicks).enter().append("text")
    .attr("x", x0 - 5).attr("y", (d) => y(d)).attr("dy", "0.36em")
    .attr("text-anchor", "end").attr("font-family", FONT).attr("font-size", 17)
    .text((d) => (d < 0 ? "\u2212" + Math.abs(d) : String(d)));
  svg.append("g").selectAll("text").data(channels).enter().append("text")
    .attr("transform", (d, i) => `translate(${x(i + 1)},${y1 + 7}) rotate(-90)`)
    .attr("text-anchor", "end").attr("dy", "0.36em")
    .attr("font-family", FONT).attr("font-size", 17)
    .text((d) => d);
  svg.append("text")
    .attr("transform", `translate(1578,${(y0 + y1) / 2}) rotate(-90)`)
    .attr("text-anchor", "middle").attr("dy", "0.36em")
    .attr("font-family", FONT).attr("font-size", 17.4)
    .text("Measurement - simulation (K)");
}

export default function App() {
  const ref = useRef<SVGSVGElement>(null);

  useEffect(() => {
    const svg = d3.select(ref.current);
    svg.selectAll("*").remove();
    svg.append("rect").attr("width", 2335).attr("height", 942).attr("fill", "#fff");

    drawScatter(svg, {
      id: "clip0", x0: 121, x1: 796, y0: 51, y1: 577,
      title: "b895 ISMAR: measurements at viewing angle 0deg",
      data: [h243Deg0, v243Deg0, h664Deg0, v664Deg0],
      dataMid: [h243Deg0Mid, v243Deg0Mid, h664Deg0Mid, v664Deg0Mid],
      extras: null, clearsky: clearsky0, showYLabels: true,
    });
    drawScatter(svg, {
      id: "clip50", x0: 827, x1: 1505, y0: 51, y1: 577,
      title: "b895 ISMAR: measurements at viewing angle 50deg",
      data: [h243Deg50, v243Deg50, h664Deg50, v664Deg50],
      dataMid: [h243Deg50Mid, v243Deg50Mid, h664Deg50Mid, v664Deg50Mid],
      extras: [{ times: extraH50Times, values: extraH50Values }, { times: extraV50Times, values: extraV50Values }, null, null],
      clearsky: clearsky50, showYLabels: false,
    });
    drawBoxes(svg);

    svg.append("g").selectAll("text").data(captionLines).enter().append("text")
      .attr("x", 57).attr("y", (d, i) => 710 + i * 101)
      .attr("font-family", "Liberation Sans, Arial, sans-serif").attr("font-size", 74)
      .text((d) => d);
  }, []);

  return (
    <svg ref={ref} width={2335} height={942}
      style={{ position: "absolute", left: 0, top: 0, display: "block" }} />
  );
}
